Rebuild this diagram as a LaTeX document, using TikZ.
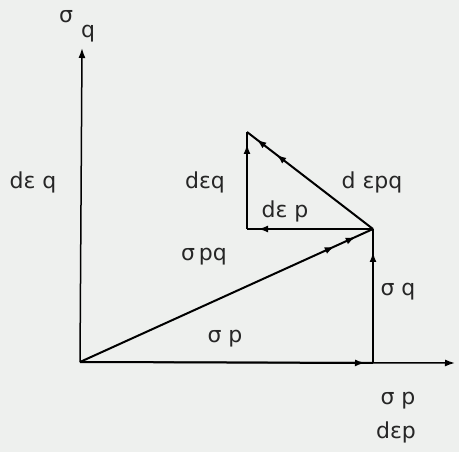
\documentclass[tikz,border=0pt]{standalone}
\usepackage{fontspec}
\setmainfont{DejaVu Sans}
\usetikzlibrary{arrows.meta,decorations.markings}
\tikzset{
  axis/.style={line width=1.5pt, -{Latex[length=10pt,width=7pt]}},
  vec/.style={line width=2pt},
  lbl/.style={inner sep=0pt, font=\fontsize{22}{22}\selectfont, text=black!85},
  tipat/.style={postaction={decorate,decoration={markings,
      mark=at position #1 with {\arrow{Latex[length=10pt,width=7pt]}}}}},
}
\begin{document}
\begin{tikzpicture}[x=1pt,y=-1pt]
  \fill[white!92!green!40!gray!20] (0,0) rectangle (459,452);
  \useasboundingbox (0,0) rectangle (459,452);
  \coordinate (O) at (80,362);
  \coordinate (ytip) at (82,48);
  \coordinate (xtip) at (455,363);
  \coordinate (A) at (373,363);
  \coordinate (B) at (373,229);
  \coordinate (C) at (247,229);
  \coordinate (D) at (247,132);

  % axes
  \draw[axis] (O) -- (ytip);
  \draw[axis] (O) -- (xtip);

  % vectors
  \draw[vec, tipat=-8pt] (O) -- (A);
  \draw[vec, tipat=-23pt] (A) -- (B);
  \draw[vec, tipat=-42pt, tipat=-19pt] (O) -- (B);
  \draw[vec, tipat=-11pt] (B) -- (C);
  \draw[vec, tipat=-12pt] (C) -- (D);
  \draw[vec, tipat=-37pt, tipat=-12pt] (B) -- (D);

  % labels
  \node[lbl] (sq) at (66,17) {σ};
  \node[lbl] (qq) at (88,34) {q};
  \node[lbl] (deqL) at (33,182) {dε q};
  \node[lbl] (deqM) at (205,182) {dεq};
  \node[lbl] (depq) at (372,182) {d εpq};
  \node[lbl] (dep) at (285,211) {dε p};
  \node[lbl] (spq) at (204,257) {σ\,pq};
  \node[lbl] (sp) at (225,339) {σ p};
  \node[lbl] (sqr) at (398,292) {σ q};
  \node[lbl] (spb) at (398,401) {σ p};
  \node[lbl] (depb) at (396,432) {dεp};
\end{tikzpicture}
\end{document}
